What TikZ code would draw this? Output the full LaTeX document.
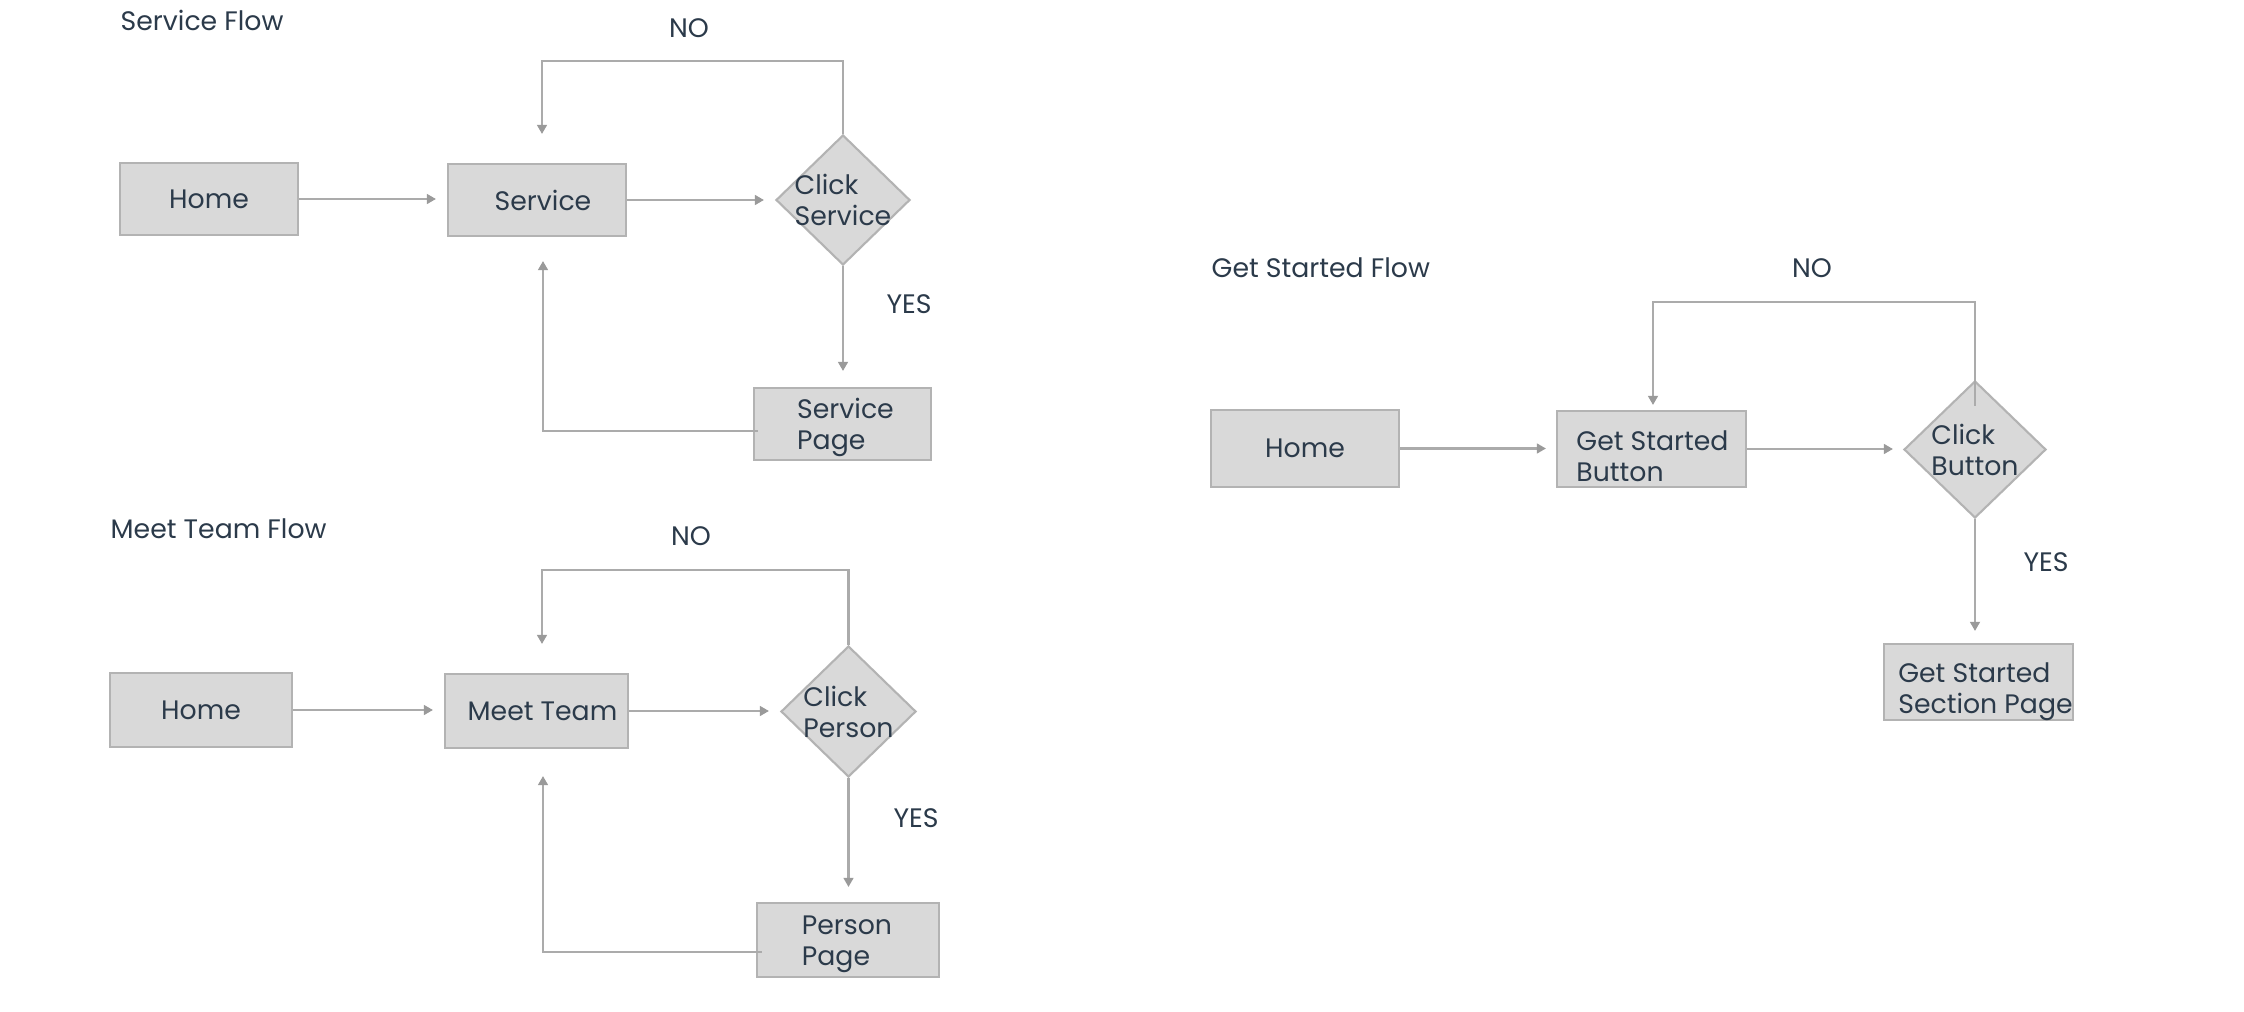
\documentclass[tikz,border=0pt]{standalone}
\usepackage{fontspec}
\setmainfont{Poppins}
\usetikzlibrary{arrows.meta,shapes.geometric,calc}
\definecolor{txt}{HTML}{2B3A4A}
\definecolor{boxfill}{HTML}{D9D9D9}
\definecolor{boxline}{HTML}{B3B3B3}
\definecolor{conn}{HTML}{ABABAB}
\definecolor{tipc}{HTML}{9A9A9A}
\begin{document}
\begin{tikzpicture}[x=0.01cm,y=-0.01cm,
  every node/.style={font=\fontsize{7.6}{8.8}\selectfont, text=txt},
  stepbox/.style n args={2}{draw=boxline, fill=boxfill, line width=0.6pt, inner sep=0pt,
     align=left, minimum width=#1*0.01cm, minimum height=#2*0.01cm},
  dia/.style n args={2}{shape=diamond, draw=boxline, fill=boxfill, line width=0.6pt, inner sep=0pt,
     minimum width=#1*0.01cm, minimum height=#2*0.01cm},
  lbl/.style={align=left, inner sep=0pt},
  title/.style={anchor=west, inner sep=0pt},
  tag/.style={inner sep=0pt},
  arr/.style={draw=conn, line width=0.6pt, -{Triangle[length=2.6pt,width=2.8pt,color=tipc]}},
]
\fill[white] (0,0) rectangle (2244,1012);
\useasboundingbox (0,0) rectangle (2244,1012);

% ---------- Service Flow ----------
\node[title] (T1) at (120,20) {Service Flow};
\node[tag] (no1) at (689,28) {NO};
\node[tag] (yes1) at (909,304) {YES};
\node[stepbox={178}{72}] (h1) at (209,199) {Home};
\node[stepbox={178}{72}, label={[lbl, shift={(6,0)}]center:Service}] (s1) at (537,200) {};
\node[dia={134}{130}, label={[lbl]center:{Click\\Service}}] (d1) at (843,200) {};
\node[stepbox={177}{72}, label={[lbl, shift={(3,3)}]center:{Service\\Page}}] (p1) at (842.5,424) {};
\coordinate (t1) at ($(s1.north)+(5,-29)$);
\coordinate (b1) at ($(s1.south)+(6,24)$);
\draw[arr, shorten >=0.11cm] (h1.east) -- (h1.east -| s1.west);
\draw[arr, shorten >=0.11cm] (s1.east) -- (s1.east -| d1.west);
\draw[arr, shorten >=0.16cm] (d1.south) -- (d1.south |- p1.north);
\draw[arr] (d1.north) -- ++(0,-73) -| (t1);
\draw[arr] ([shift={(5,7)}]p1.west) -| (b1);

% ---------- Meet Team Flow ----------
\node[title] (T2) at (110,529) {Meet Team Flow};
\node[tag] (no2) at (691,536) {NO};
\node[tag] (yes2) at (916,818) {YES};
\node[stepbox={182}{74}] (h2) at (201,710) {Home};
\node[stepbox={183}{74}, label={[lbl, shift={(6,0)}]center:{Meet Team}}] (m2) at (536.5,711) {};
\node[dia={135}{131}, label={[lbl]center:{Click\\Person}}] (d2) at (848.5,711.5) {};
\node[stepbox={182}{74}, label={[lbl, shift={(-1,4)}]center:{Person\\Page}}] (q2) at (848,940) {};
\coordinate (t2) at ($(m2.north)+(5.5,-29)$);
\coordinate (b2) at ($(m2.south)+(6.5,27)$);
\draw[arr, shorten >=0.11cm] (h2.east) -- (h2.east -| m2.west);
\draw[arr, shorten >=0.11cm] (m2.east) -- (m2.east -| d2.west);
\draw[arr, shorten >=0.15cm] (d2.south) -- (d2.south |- q2.north);
\draw[arr] (d2.north) -- ++(0,-75) -| (t2);
\draw[arr] ([shift={(6,12)}]q2.west) -| (b2);

% ---------- Get Started Flow ----------
\node[title] (T3) at (1211,268) {Get Started Flow};
\node[tag] (no3) at (1812,268) {NO};
\node[tag] (yes3) at (2046,562) {YES};
\node[stepbox={188}{77}] (h3) at (1305,448.5) {Home};
\node[stepbox={189}{76}, label={[lbl, shift={(1,7)}]center:{Get Started\\Button}}] (g3) at (1651.5,449) {};
\node[dia={142}{137}, label={[lbl]center:{Click\\Button}}] (d3) at (1975,449.5) {};
\node[stepbox={189}{76}, label={[lbl, shift={(7,10)}]center:{Get Started\\Section Page}}] (r3) at (1978.5,682) {};
\coordinate (t3) at ($(g3.north)+(1.5,-5)$);
\draw[arr, shorten >=0.10cm] (h3.east) -- (h3.east -| g3.west);
\draw[arr, shorten >=0.10cm] (g3.east) -- (g3.east -| d3.west);
\draw[arr, shorten >=0.12cm] (d3.south) -- (d3.south |- r3.north);
\draw[arr] ($(d3.north)+(0,26)$) -- ++(0,-104) -| (t3);
\end{tikzpicture}
\end{document}
